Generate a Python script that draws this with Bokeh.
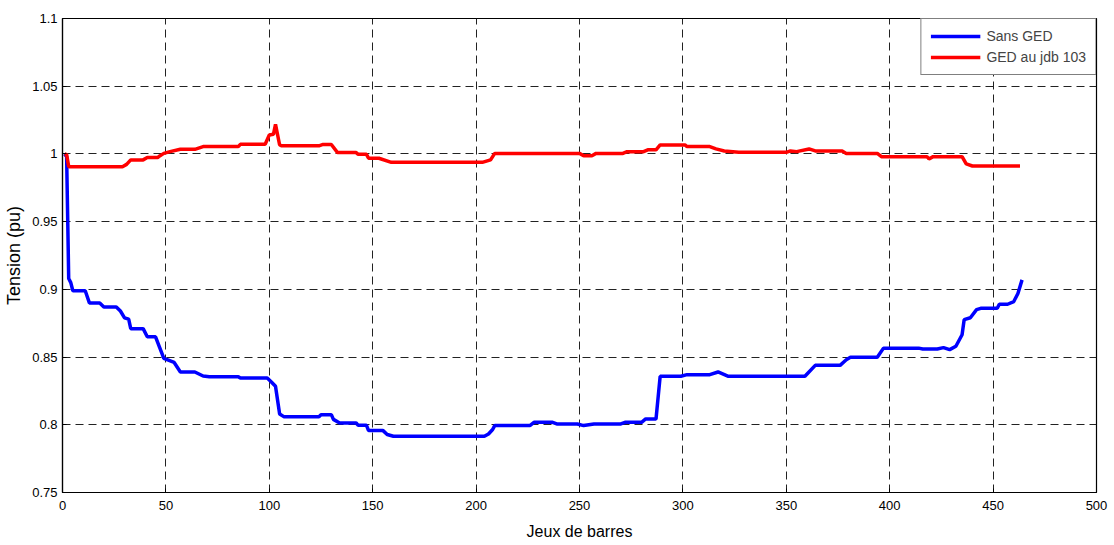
from bokeh.plotting import figure
from bokeh.models import Range1d, FixedTicker, Legend, LegendItem
from bokeh.embed import file_html
from bokeh.resources import INLINE

# Bus voltage profile (pu) without DG
bus_sans = [1, 2, 3, 4, 5, 11, 13, 18, 20, 26, 28, 30, 32, 33, 39, 41, 45, 47, 49, 54,
            57, 64, 68, 71, 85, 86, 99, 101, 103, 105, 107, 124, 125, 130, 131, 134,
            142, 143, 147, 148, 155, 157, 160, 204, 206, 208, 209, 226, 228, 237, 239,
            249, 252, 257, 270, 272, 280, 282, 287, 289, 299, 302, 313, 317, 322, 359,
            364, 376, 379, 381, 394, 397, 414, 416, 423, 426, 429, 432, 435, 436, 439,
            442, 444, 452, 453, 457, 460, 462, 464]
v_sans = [1.000, 0.998, 0.908, 0.905, 0.899, 0.899, 0.890, 0.890, 0.887, 0.887, 0.884,
          0.879, 0.878, 0.871, 0.871, 0.865, 0.865, 0.857, 0.849, 0.846, 0.839, 0.839,
          0.836, 0.8355, 0.8355, 0.8345, 0.8345, 0.8316, 0.8284, 0.808, 0.806, 0.806,
          0.8075, 0.8075, 0.804, 0.8013, 0.8013, 0.7996, 0.7996, 0.7957, 0.7957, 0.7928,
          0.7915, 0.7915, 0.7932, 0.7965, 0.7994, 0.7994, 0.8018, 0.8018, 0.8006, 0.8006,
          0.7994, 0.8006, 0.8006, 0.8018, 0.8018, 0.8043, 0.8043, 0.8358, 0.8358, 0.837,
          0.837, 0.839, 0.8358, 0.8358, 0.8439, 0.8439, 0.848, 0.8498, 0.8498, 0.8566,
          0.8566, 0.856, 0.856, 0.857, 0.8555, 0.858, 0.8665, 0.8776, 0.879, 0.885, 0.886,
          0.886, 0.889, 0.889, 0.891, 0.897, 0.907]

# Bus voltage profile (pu) with DG connected at bus 103
bus_ged = [1, 2, 3, 29, 31, 33, 39, 41, 46, 47, 49, 52, 57, 64, 68, 85, 86, 98, 100, 102,
           103, 105, 106, 124, 126, 130, 133, 142, 143, 147, 148, 153, 159, 203, 207, 209,
           250, 252, 256, 258, 271, 273, 281, 283, 287, 289, 301, 302, 313, 316, 320, 327,
           350, 352, 355, 361, 364, 377, 379, 394, 396, 418, 419, 421, 435, 437, 440, 463]
v_ged = [1.000, 0.9995, 0.9906, 0.9906, 0.9923, 0.9956, 0.9956, 0.9973, 0.9973, 0.9985,
         1.0004, 1.0017, 1.0034, 1.0034, 1.0054, 1.0054, 1.0071, 1.0071, 1.014, 1.0145,
         1.0218, 1.0066, 1.006, 1.006, 1.007, 1.007, 1.001, 1.001, 0.9997, 0.9997, 0.9968,
         0.9968, 0.9938, 0.9938, 0.9956, 1.0004, 1.0004, 0.9987, 0.9987, 1.0004, 1.0004,
         1.0017, 1.0017, 1.003, 1.003, 1.0066, 1.0066, 1.0054, 1.0054, 1.0037, 1.0022,
         1.0012, 1.0012, 1.0022, 1.0017, 1.0037, 1.0022, 1.0022, 1.0004, 1.0004, 0.998,
         0.998, 0.9963, 0.998, 0.998, 0.9926, 0.9911, 0.9911]

series_labels = ["Sans GED", "GED au jdb 103"]
x_ticks = [0, 50, 100, 150, 200, 250, 300, 350, 400, 450, 500]
y_ticks = [0.75, 0.8, 0.85, 0.9, 0.95, 1.0, 1.05, 1.1]

FONT = "Liberation Sans"

p = figure(width=1114, height=545, output_backend="svg", toolbar_location=None,
           x_range=Range1d(0, 500), y_range=Range1d(0.75, 1.1),
           min_border_left=62, min_border_right=18, min_border_top=18,
           min_border_bottom=53)
p.background_fill_color = "white"
p.border_fill_color = "white"
p.outline_line_color = "black"
p.outline_line_width = 1.2

p.xaxis.ticker = FixedTicker(ticks=x_ticks)
p.yaxis.ticker = FixedTicker(ticks=y_ticks)
p.yaxis.major_label_overrides = {0.75: "0.75", 0.8: "0.8", 0.85: "0.85", 0.9: "0.9",
                                 0.95: "0.95", 1.0: "1", 1.05: "1.05", 1.1: "1.1"}
for ax in (p.xaxis[0], p.yaxis[0]):
    ax.axis_line_color = "black"
    ax.axis_line_width = 1.2
    ax.major_tick_in = 4
    ax.major_tick_out = 0
    ax.minor_tick_line_color = None
    ax.major_label_text_font = FONT
    ax.major_label_text_font_size = "13px"
    ax.major_label_text_color = "black"
p.xaxis.major_label_standoff = 8
p.yaxis.major_label_standoff = 5

p.xaxis.axis_label = "Jeux de barres"
p.xaxis.axis_label_text_font = FONT
p.xaxis.axis_label_text_font_size = "16px"
p.xaxis.axis_label_text_font_style = "normal"
p.xaxis.axis_label_text_color = "black"
p.xaxis.axis_label_standoff = 10

p.yaxis.axis_label = "Tension (pu)"
p.yaxis.axis_label_text_font = FONT
p.yaxis.axis_label_text_font_size = "18px"
p.yaxis.axis_label_text_font_style = "normal"
p.yaxis.axis_label_text_color = "black"
p.yaxis.axis_label_standoff = 5

for g in (p.xgrid[0], p.ygrid[0]):
    g.grid_line_color = "#222222"
    g.grid_line_dash = "8 5"
    g.grid_line_width = 1

r_sans = p.line(bus_sans, v_sans, line_color="#0000ff", line_width=3.5)
r_ged = p.line(bus_ged, v_ged, line_color="#ff0000", line_width=3.5)

legend = Legend(items=[LegendItem(label=series_labels[0], renderers=[r_sans]),
                       LegendItem(label=series_labels[1], renderers=[r_ged])],
                location="top_right")
legend.margin = 0
legend.padding = 9
legend.spacing = 5
legend.glyph_width = 50
legend.glyph_height = 16
legend.label_height = 16
legend.label_standoff = 6
legend.label_text_font = FONT
legend.label_text_font_size = "14px"
legend.border_line_color = "black"
legend.border_line_width = 1
legend.background_fill_alpha = 1
p.add_layout(legend)

open("out.html", "w").write(file_html(p, INLINE))
